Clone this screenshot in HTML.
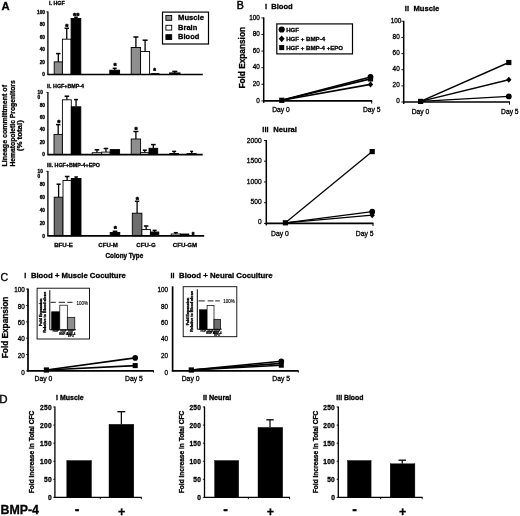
<!DOCTYPE html>
<html><head><meta charset="utf-8"><title>Figure</title>
<style>
html,body{margin:0;padding:0;background:#fff;}
svg{display:block;font-family:"Liberation Sans",sans-serif;font-weight:bold;fill:#000;}
svg line,svg rect{stroke:#000;}
</style></head><body>
<svg width="520" height="516" viewBox="0 0 520 516">
<defs><filter id="soft" x="0" y="0" width="520" height="516" filterUnits="userSpaceOnUse"><feGaussianBlur stdDeviation="0.4"/></filter></defs>
<rect x="0" y="0" width="520" height="516" fill="#fff" style="stroke:none"/>
<g filter="url(#soft)" stroke="#000" stroke-width="0.3">
<text x="1.4" y="10.2" font-size="11.3">A</text>
<text x="7.4" y="166.6" font-size="7.2" textLength="81.6" lengthAdjust="spacingAndGlyphs" transform="rotate(-90 7.4 166.6)">Lineage committment of</text>
<text x="15.1" y="166.6" font-size="7.2" textLength="86.3" lengthAdjust="spacingAndGlyphs" transform="rotate(-90 15.1 166.6)">Hematopoietic Progenitors</text>
<text x="22.4" y="151.2" font-size="7.2" textLength="31" lengthAdjust="spacingAndGlyphs" transform="rotate(-90 22.4 151.2)">(%  total)</text>
<text x="49" y="5.3" font-size="5.35">i.  HGF</text>
<text x="45" y="76.2" font-size="4.8" text-anchor="end">0</text>
<text x="45" y="63.68" font-size="4.8" text-anchor="end">20</text>
<text x="45" y="51.16" font-size="4.8" text-anchor="end">40</text>
<text x="45" y="38.64" font-size="4.8" text-anchor="end">60</text>
<text x="45" y="26.12" font-size="4.8" text-anchor="end">80</text>
<text x="45" y="13.6" font-size="4.8" text-anchor="end">100</text>
<line x1="58.3" y1="61.9" x2="58.3" y2="53.6" stroke-width="1.3"/>
<line x1="56.1" y1="53.6" x2="60.5" y2="53.6" stroke-width="1.5"/>
<rect x="54.2" y="61.9" width="8.2" height="12.6" fill="#8e8e8e" stroke-width="0.9"/>
<line x1="66.75" y1="39.2" x2="66.75" y2="28.3" stroke-width="1.3"/>
<line x1="64.55" y1="28.3" x2="68.95" y2="28.3" stroke-width="1.5"/>
<rect x="62.4" y="39.2" width="8.7" height="35.3" fill="#fff" stroke-width="0.9"/>
<line x1="75.95" y1="18.5" x2="75.95" y2="17.2" stroke-width="1.3"/>
<line x1="74.15" y1="17.2" x2="77.75" y2="17.2" stroke-width="1.5"/>
<rect x="71.1" y="18.5" width="9.7" height="56" fill="#000" stroke-width="0.9"/>
<line x1="114.7" y1="70.2" x2="114.7" y2="68.3" stroke-width="1.3"/>
<line x1="112.7" y1="68.3" x2="116.7" y2="68.3" stroke-width="1.5"/>
<rect x="109.8" y="70.2" width="9.8" height="4.3" fill="#000" stroke-width="0.9"/>
<line x1="135.9" y1="47.5" x2="135.9" y2="37" stroke-width="1.3"/>
<line x1="133.4" y1="37" x2="138.4" y2="37" stroke-width="1.5"/>
<rect x="131.2" y="47.5" width="9.4" height="27" fill="#8e8e8e" stroke-width="0.9"/>
<line x1="145.1" y1="51.5" x2="145.1" y2="40.2" stroke-width="1.3"/>
<line x1="142.6" y1="40.2" x2="147.6" y2="40.2" stroke-width="1.5"/>
<rect x="140.6" y="51.5" width="9" height="23" fill="#fff" stroke-width="0.9"/>
<rect x="151" y="73.6" width="8" height="0.9" fill="#000" stroke-width="0.9"/>
<line x1="174.8" y1="72.9" x2="174.8" y2="71.4" stroke-width="1.3"/>
<line x1="172.3" y1="71.4" x2="177.3" y2="71.4" stroke-width="1.5"/>
<rect x="169.6" y="72.9" width="10.4" height="1.6" fill="#000" stroke-width="0.9"/>
<line x1="47.9" y1="11.5" x2="47.9" y2="74.5" stroke-width="1.3"/>
<line x1="46.3" y1="11.9" x2="47.9" y2="11.9" stroke-width="0.8"/>
<line x1="47.3" y1="74.5" x2="202.8" y2="74.5" stroke-width="1.7"/>
<text x="66.9" y="29.19" font-size="8.05" text-anchor="middle" stroke="#000" stroke-width="0.55">*</text>
<text x="76.2" y="17.99" font-size="8.05" text-anchor="middle" stroke="#000" stroke-width="0.55">**</text>
<text x="115" y="68.19" font-size="8.05" text-anchor="middle" stroke="#000" stroke-width="0.55">*</text>
<text x="154.5" y="73.32" font-size="6.9" text-anchor="middle" stroke="#000" stroke-width="0.55">*</text>
<text x="47.1" y="87.6" font-size="5.35">ii.  HGF+BMP-4</text>
<text x="45" y="156.3" font-size="4.8" text-anchor="end">0</text>
<text x="45" y="143.86" font-size="4.8" text-anchor="end">20</text>
<text x="45" y="131.42" font-size="4.8" text-anchor="end">40</text>
<text x="45" y="118.98" font-size="4.8" text-anchor="end">60</text>
<text x="45" y="106.54" font-size="4.8" text-anchor="end">80</text>
<text x="37.5" y="94" font-size="4.8">10</text>
<text x="37.5" y="98.6" font-size="4.8">0</text>
<line x1="58.2" y1="134.4" x2="58.2" y2="124.6" stroke-width="1.3"/>
<line x1="56" y1="124.6" x2="60.4" y2="124.6" stroke-width="1.5"/>
<rect x="54" y="134.4" width="8.4" height="20.2" fill="#8e8e8e" stroke-width="0.9"/>
<line x1="66.85" y1="99.8" x2="66.85" y2="96.2" stroke-width="1.3"/>
<line x1="64.55" y1="96.2" x2="69.15" y2="96.2" stroke-width="1.5"/>
<rect x="62.4" y="99.8" width="8.9" height="54.8" fill="#fff" stroke-width="0.9"/>
<line x1="76.05" y1="106.8" x2="76.05" y2="99.6" stroke-width="1.3"/>
<line x1="74.05" y1="99.6" x2="78.05" y2="99.6" stroke-width="1.5"/>
<rect x="71.3" y="106.8" width="9.5" height="47.8" fill="#000" stroke-width="0.9"/>
<line x1="96.95" y1="152.7" x2="96.95" y2="149.8" stroke-width="1.3"/>
<line x1="94.65" y1="149.8" x2="99.25" y2="149.8" stroke-width="1.5"/>
<rect x="92.2" y="152.7" width="9.5" height="1.9" fill="#fff" stroke-width="0.9"/>
<line x1="105.95" y1="152.1" x2="105.95" y2="148.5" stroke-width="1.3"/>
<line x1="103.65" y1="148.5" x2="108.25" y2="148.5" stroke-width="1.5"/>
<rect x="101.7" y="152.1" width="8.5" height="2.5" fill="#fff" stroke-width="0.9"/>
<rect x="110.2" y="149.6" width="9.4" height="5" fill="#000" stroke-width="0.9"/>
<line x1="135.9" y1="139" x2="135.9" y2="131.5" stroke-width="1.3"/>
<line x1="133.4" y1="131.5" x2="138.4" y2="131.5" stroke-width="1.5"/>
<rect x="131.2" y="139" width="9.4" height="15.6" fill="#8e8e8e" stroke-width="0.9"/>
<line x1="144.8" y1="152.6" x2="144.8" y2="150.2" stroke-width="1.3"/>
<line x1="142.8" y1="150.2" x2="146.8" y2="150.2" stroke-width="1.5"/>
<rect x="140.6" y="152.6" width="8.4" height="2" fill="#fff" stroke-width="0.9"/>
<line x1="153.35" y1="148.3" x2="153.35" y2="144.6" stroke-width="1.3"/>
<line x1="151.05" y1="144.6" x2="155.65" y2="144.6" stroke-width="1.5"/>
<rect x="149" y="148.3" width="8.7" height="6.3" fill="#000" stroke-width="0.9"/>
<line x1="174.15" y1="153.5" x2="174.15" y2="151.4" stroke-width="1.3"/>
<line x1="172.15" y1="151.4" x2="176.15" y2="151.4" stroke-width="1.5"/>
<rect x="169.8" y="153.5" width="8.7" height="1.1" fill="#000" stroke-width="0.9"/>
<line x1="191.65" y1="153.6" x2="191.65" y2="151.4" stroke-width="1.3"/>
<line x1="190.15" y1="151.4" x2="193.15" y2="151.4" stroke-width="1.5"/>
<rect x="187" y="153.6" width="9.3" height="1" fill="#000" stroke-width="0.9"/>
<line x1="47.9" y1="92" x2="47.9" y2="154.6" stroke-width="1.3"/>
<line x1="46.3" y1="92.4" x2="47.9" y2="92.4" stroke-width="0.8"/>
<line x1="47.3" y1="154.6" x2="202.7" y2="154.6" stroke-width="1.7"/>
<text x="58.8" y="124.99" font-size="8.05" text-anchor="middle" stroke="#000" stroke-width="0.55">*</text>
<text x="136.1" y="132.29" font-size="8.05" text-anchor="middle" stroke="#000" stroke-width="0.55">*</text>
<text x="47.1" y="167" font-size="5.35">iii.  HGF+BMP-4+EPO</text>
<text x="45" y="237.5" font-size="4.8" text-anchor="end">0</text>
<text x="45" y="224.6" font-size="4.8" text-anchor="end">20</text>
<text x="45" y="211.7" font-size="4.8" text-anchor="end">40</text>
<text x="45" y="198.8" font-size="4.8" text-anchor="end">60</text>
<text x="45" y="185.9" font-size="4.8" text-anchor="end">80</text>
<text x="37.5" y="172.9" font-size="4.8">10</text>
<text x="37.5" y="177.5" font-size="4.8">0</text>
<line x1="58.6" y1="197.2" x2="58.6" y2="184.2" stroke-width="1.3"/>
<line x1="56.55" y1="184.2" x2="60.65" y2="184.2" stroke-width="1.5"/>
<rect x="54.2" y="197.2" width="8.8" height="38.6" fill="#6e6e6e" stroke-width="0.9"/>
<line x1="67.15" y1="180.5" x2="67.15" y2="176.5" stroke-width="1.3"/>
<line x1="64.85" y1="176.5" x2="69.45" y2="176.5" stroke-width="1.5"/>
<rect x="63" y="180.5" width="8.3" height="55.3" fill="#fff" stroke-width="0.9"/>
<line x1="76.15" y1="178.5" x2="76.15" y2="177" stroke-width="1.3"/>
<line x1="74.4" y1="177" x2="77.9" y2="177" stroke-width="1.5"/>
<rect x="71.3" y="178.5" width="9.7" height="57.3" fill="#000" stroke-width="0.9"/>
<line x1="115" y1="232.5" x2="115" y2="231.3" stroke-width="1.3"/>
<line x1="112.7" y1="231.3" x2="117.3" y2="231.3" stroke-width="1.5"/>
<rect x="110.2" y="232.5" width="9.6" height="3.3" fill="#000" stroke-width="0.9"/>
<line x1="137.1" y1="213.2" x2="137.1" y2="201.3" stroke-width="1.3"/>
<line x1="134.9" y1="201.3" x2="139.3" y2="201.3" stroke-width="1.5"/>
<rect x="132.3" y="213.2" width="9.6" height="22.6" fill="#6e6e6e" stroke-width="0.9"/>
<line x1="146.15" y1="229.6" x2="146.15" y2="226" stroke-width="1.3"/>
<line x1="143.9" y1="226" x2="148.4" y2="226" stroke-width="1.5"/>
<rect x="141.9" y="229.6" width="8.5" height="6.2" fill="#fff" stroke-width="0.9"/>
<line x1="154.6" y1="232" x2="154.6" y2="230.4" stroke-width="1.3"/>
<line x1="152.6" y1="230.4" x2="156.6" y2="230.4" stroke-width="1.5"/>
<rect x="150.4" y="232" width="8.4" height="3.8" fill="#000" stroke-width="0.9"/>
<line x1="175.8" y1="234" x2="175.8" y2="232.7" stroke-width="1.3"/>
<line x1="173.8" y1="232.7" x2="177.8" y2="232.7" stroke-width="1.5"/>
<rect x="171.2" y="234" width="9.2" height="1.8" fill="#fff" stroke-width="0.9"/>
<rect x="180.4" y="234" width="8.4" height="1.8" fill="#000" stroke-width="0.9"/>
<line x1="47.9" y1="170.9" x2="47.9" y2="235.8" stroke-width="1.3"/>
<line x1="46.3" y1="171.3" x2="47.9" y2="171.3" stroke-width="0.8"/>
<line x1="47.3" y1="235.8" x2="204.2" y2="235.8" stroke-width="1.7"/>
<text x="115.2" y="230.69" font-size="8.05" text-anchor="middle" stroke="#000" stroke-width="0.55">*</text>
<text x="137.2" y="202.29" font-size="8.05" text-anchor="middle" stroke="#000" stroke-width="0.55">*</text>
<text x="193.2" y="236.72" font-size="6.9" text-anchor="middle" stroke="#000" stroke-width="0.55">*</text>
<text x="63.5" y="246.7" font-size="6.1" text-anchor="middle">BFU-E</text>
<text x="108.1" y="246.7" font-size="6.1" text-anchor="middle">CFU-M</text>
<text x="146" y="246.7" font-size="6.1" text-anchor="middle">CFU-G</text>
<text x="185" y="246.7" font-size="6.1" text-anchor="middle">CFU-GM</text>
<text x="105.5" y="258.3" font-size="6.3" textLength="37.7" lengthAdjust="spacingAndGlyphs">Colony Type</text>
<rect x="162.5" y="12.1" width="46" height="31.9" fill="#fff" stroke-width="1.2"/>
<rect x="165.9" y="15.5" width="5.8" height="4.8" fill="#8e8e8e" stroke-width="0.9"/>
<rect x="165.9" y="25.3" width="5.8" height="4.8" fill="#fff" stroke-width="0.9"/>
<rect x="165.9" y="34.7" width="5.8" height="4.8" fill="#000" stroke-width="0.9"/>
<text x="178.1" y="20.3" font-size="7.5" textLength="25.9" lengthAdjust="spacingAndGlyphs">Muscle</text>
<text x="178.1" y="29.7" font-size="7.5">Brain</text>
<text x="178.1" y="38.9" font-size="7.5">Blood</text>
<text x="236.8" y="8.8" font-size="10.6" font-weight="normal" stroke="#000" stroke-width="0.5">B</text>
<text x="245.4" y="88.5" font-size="8.2" textLength="61.5" lengthAdjust="spacingAndGlyphs" transform="rotate(-90 245.4 88.5)">Fold Expansion</text>
<text x="264.9" y="9.2" font-size="7.5">i</text>
<text x="271.2" y="9.2" font-size="7.6">Blood</text>
<text x="259.9" y="102.6" font-size="6.4" font-weight="normal" text-anchor="end" stroke="#000" stroke-width="0.3">0</text>
<line x1="261.4" y1="100.9" x2="263.7" y2="100.9" stroke-width="0.9"/>
<text x="259.9" y="86" font-size="6.4" font-weight="normal" text-anchor="end" stroke="#000" stroke-width="0.3">20</text>
<line x1="261.4" y1="84.3" x2="263.7" y2="84.3" stroke-width="0.9"/>
<text x="259.9" y="69.4" font-size="6.4" font-weight="normal" text-anchor="end" stroke="#000" stroke-width="0.3">40</text>
<line x1="261.4" y1="67.7" x2="263.7" y2="67.7" stroke-width="0.9"/>
<text x="259.9" y="52.8" font-size="6.4" font-weight="normal" text-anchor="end" stroke="#000" stroke-width="0.3">60</text>
<line x1="261.4" y1="51.1" x2="263.7" y2="51.1" stroke-width="0.9"/>
<text x="259.9" y="36.2" font-size="6.4" font-weight="normal" text-anchor="end" stroke="#000" stroke-width="0.3">80</text>
<line x1="261.4" y1="34.5" x2="263.7" y2="34.5" stroke-width="0.9"/>
<text x="259.9" y="19.6" font-size="6.4" font-weight="normal" text-anchor="end" stroke="#000" stroke-width="0.3">100</text>
<line x1="261.4" y1="17.9" x2="263.7" y2="17.9" stroke-width="0.9"/>
<line x1="263.7" y1="17.4" x2="263.7" y2="102.9" stroke-width="1.5"/>
<line x1="263.2" y1="100.9" x2="372.2" y2="100.9" stroke-width="1.6"/>
<line x1="371.7" y1="100.9" x2="371.7" y2="103.5" stroke-width="1"/>
<line x1="281.8" y1="100.3" x2="370.5" y2="84.4" stroke-width="1.6"/>
<line x1="281.8" y1="100.3" x2="370.5" y2="78.9" stroke-width="1.6"/>
<line x1="281.8" y1="100.3" x2="370.5" y2="76.9" stroke-width="1.6"/>
<polygon points="370.5,81.36 373.17,84.4 370.5,87.45 367.83,84.4" stroke="none"/>
<rect x="367.89" y="76.29" width="5.22" height="5.22" style="stroke:none"/>
<circle cx="370.5" cy="76.9" r="2.9" stroke="none"/>
<rect x="279.19" y="97.69" width="5.22" height="5.22" style="stroke:none"/>
<text x="272.2" y="112.1" font-size="6.7" font-weight="normal" stroke="#000" stroke-width="0.3">Day 0</text>
<text x="363" y="112.1" font-size="6.7" font-weight="normal" stroke="#000" stroke-width="0.3">Day 5</text>
<rect x="276.8" y="23.9" width="75.7" height="30" fill="#fff" stroke-width="1.2"/>
<circle cx="281.7" cy="29.5" r="3.1" stroke="none"/>
<text x="286.2" y="31.8" font-size="6.1">HGF</text>
<polygon points="281.7,35.44 284.64,38.8 281.7,42.16 278.76,38.8" stroke="none"/>
<text x="286.2" y="41.1" font-size="6.1" textLength="38.9" lengthAdjust="spacingAndGlyphs">HGF + BMP-4</text>
<rect x="279.18" y="45.08" width="5.04" height="5.04" style="stroke:none"/>
<text x="286.2" y="49.5" font-size="6.1" textLength="56.9" lengthAdjust="spacingAndGlyphs">HGF + BMP-4 +EPO</text>
<text x="404.8" y="11" font-size="7.5">ii</text>
<text x="413.5" y="11" font-size="7.6">Muscle</text>
<text x="399.7" y="103.3" font-size="6.4" font-weight="normal" text-anchor="end" stroke="#000" stroke-width="0.3">0</text>
<line x1="401.4" y1="102" x2="403.7" y2="102" stroke-width="0.9"/>
<text x="399.7" y="87.16" font-size="6.4" font-weight="normal" text-anchor="end" stroke="#000" stroke-width="0.3">20</text>
<line x1="401.4" y1="85.86" x2="403.7" y2="85.86" stroke-width="0.9"/>
<text x="399.7" y="71.02" font-size="6.4" font-weight="normal" text-anchor="end" stroke="#000" stroke-width="0.3">40</text>
<line x1="401.4" y1="69.72" x2="403.7" y2="69.72" stroke-width="0.9"/>
<text x="399.7" y="54.88" font-size="6.4" font-weight="normal" text-anchor="end" stroke="#000" stroke-width="0.3">60</text>
<line x1="401.4" y1="53.58" x2="403.7" y2="53.58" stroke-width="0.9"/>
<text x="399.7" y="38.74" font-size="6.4" font-weight="normal" text-anchor="end" stroke="#000" stroke-width="0.3">80</text>
<line x1="401.4" y1="37.44" x2="403.7" y2="37.44" stroke-width="0.9"/>
<text x="401.3" y="22.6" font-size="6.4" font-weight="normal" text-anchor="end" stroke="#000" stroke-width="0.3">100</text>
<line x1="401.4" y1="21.3" x2="403.7" y2="21.3" stroke-width="0.9"/>
<line x1="403.7" y1="20.8" x2="403.7" y2="104" stroke-width="1.5"/>
<line x1="403.2" y1="102" x2="510" y2="102" stroke-width="1.6"/>
<line x1="509.5" y1="102" x2="509.5" y2="104.6" stroke-width="1"/>
<line x1="420.6" y1="101.4" x2="508.8" y2="96.4" stroke-width="1.45"/>
<line x1="420.6" y1="101.4" x2="508.8" y2="79.7" stroke-width="1.45"/>
<line x1="420.6" y1="101.4" x2="508.8" y2="62.5" stroke-width="1.45"/>
<circle cx="508.8" cy="96.4" r="2.9" stroke="none"/>
<polygon points="508.8,76.66 511.47,79.7 508.8,82.75 506.13,79.7" stroke="none"/>
<rect x="506.19" y="59.89" width="5.22" height="5.22" style="stroke:none"/>
<rect x="417.99" y="98.79" width="5.22" height="5.22" style="stroke:none"/>
<text x="411.7" y="113.6" font-size="6.7" font-weight="normal" stroke="#000" stroke-width="0.3">Day 0</text>
<text x="501.1" y="113.6" font-size="6.7" font-weight="normal" stroke="#000" stroke-width="0.3">Day 5</text>
<text x="262.3" y="132.1" font-size="7.5">iii</text>
<text x="273.3" y="132.1" font-size="7.6">Neural</text>
<text x="261.7" y="224.4" font-size="6.7" font-weight="normal" text-anchor="end" stroke="#000" stroke-width="0.3">0</text>
<line x1="264" y1="223.4" x2="266.3" y2="223.4" stroke-width="0.9"/>
<text x="261.7" y="204.05" font-size="6.7" font-weight="normal" text-anchor="end" stroke="#000" stroke-width="0.3">500</text>
<line x1="264" y1="202.68" x2="266.3" y2="202.68" stroke-width="0.9"/>
<text x="261.7" y="183.7" font-size="6.7" font-weight="normal" text-anchor="end" stroke="#000" stroke-width="0.3">1000</text>
<line x1="264" y1="181.95" x2="266.3" y2="181.95" stroke-width="0.9"/>
<text x="261.7" y="163.35" font-size="6.7" font-weight="normal" text-anchor="end" stroke="#000" stroke-width="0.3">1500</text>
<line x1="264" y1="161.22" x2="266.3" y2="161.22" stroke-width="0.9"/>
<text x="261.7" y="143" font-size="6.7" font-weight="normal" text-anchor="end" stroke="#000" stroke-width="0.3">2000</text>
<line x1="264" y1="140.5" x2="266.3" y2="140.5" stroke-width="0.9"/>
<line x1="266.3" y1="140" x2="266.3" y2="225.4" stroke-width="1.5"/>
<line x1="265.8" y1="223.4" x2="373.5" y2="223.4" stroke-width="1.6"/>
<line x1="373" y1="223.4" x2="373" y2="226" stroke-width="1"/>
<line x1="285.4" y1="222.8" x2="372.2" y2="215.2" stroke-width="1.25"/>
<line x1="285.4" y1="222.8" x2="372.2" y2="211.7" stroke-width="1.25"/>
<line x1="285.4" y1="222.8" x2="372.2" y2="151.6" stroke-width="1.25"/>
<polygon points="372.2,212.16 374.87,215.2 372.2,218.24 369.53,215.2" stroke="none"/>
<circle cx="372.2" cy="211.7" r="2.9" stroke="none"/>
<rect x="369.59" y="148.99" width="5.22" height="5.22" style="stroke:none"/>
<rect x="282.79" y="220.19" width="5.22" height="5.22" style="stroke:none"/>
<text x="271" y="235.6" font-size="6.8" font-weight="normal" stroke="#000" stroke-width="0.3">Day 0</text>
<text x="355.8" y="235.6" font-size="6.8" font-weight="normal" stroke="#000" stroke-width="0.3">Day 5</text>
<text x="0.4" y="280.8" font-size="10.6" font-weight="normal" stroke="#000" stroke-width="0.3">C</text>
<text x="8.3" y="358.2" font-size="8.2" textLength="61.5" lengthAdjust="spacingAndGlyphs" transform="rotate(-90 8.3 358.2)">Fold Expansion</text>
<text x="24.2" y="278.1" font-size="7.2">i</text>
<text x="30.9" y="278.1" font-size="7.2" textLength="95" lengthAdjust="spacingAndGlyphs">Blood + Muscle Coculture</text>
<text x="24.8" y="374.6" font-size="6.3" font-weight="normal" text-anchor="end" stroke="#000" stroke-width="0.3">0</text>
<line x1="26.2" y1="370.9" x2="28" y2="370.9" stroke-width="0.9"/>
<text x="24.8" y="357.74" font-size="6.3" font-weight="normal" text-anchor="end" stroke="#000" stroke-width="0.3">20</text>
<line x1="26.2" y1="354.54" x2="28" y2="354.54" stroke-width="0.9"/>
<text x="24.8" y="341.38" font-size="6.3" font-weight="normal" text-anchor="end" stroke="#000" stroke-width="0.3">40</text>
<line x1="26.2" y1="338.18" x2="28" y2="338.18" stroke-width="0.9"/>
<text x="24.8" y="325.02" font-size="6.3" font-weight="normal" text-anchor="end" stroke="#000" stroke-width="0.3">60</text>
<line x1="26.2" y1="321.82" x2="28" y2="321.82" stroke-width="0.9"/>
<text x="24.8" y="308.66" font-size="6.3" font-weight="normal" text-anchor="end" stroke="#000" stroke-width="0.3">80</text>
<line x1="26.2" y1="305.46" x2="28" y2="305.46" stroke-width="0.9"/>
<text x="24.8" y="292.3" font-size="6.3" font-weight="normal" text-anchor="end" stroke="#000" stroke-width="0.3">100</text>
<line x1="26.2" y1="289.1" x2="28" y2="289.1" stroke-width="0.9"/>
<line x1="28" y1="288.6" x2="28" y2="371.5" stroke-width="1.7"/>
<line x1="27.3" y1="370.9" x2="153.8" y2="370.9" stroke-width="1.7"/>
<line x1="153.5" y1="370.9" x2="153.5" y2="372.5" stroke-width="1"/>
<line x1="46.4" y1="370" x2="135.2" y2="365.6" stroke-width="1.6"/>
<line x1="46.4" y1="370" x2="135.2" y2="357.9" stroke-width="1.6"/>
<rect x="132.68" y="363.08" width="5.04" height="5.04" style="stroke:none"/>
<circle cx="135.2" cy="357.9" r="2.8" stroke="none"/>
<rect x="43.79" y="367.39" width="5.22" height="5.22" style="stroke:none"/>
<text x="34.6" y="380.5" font-size="6.8" font-weight="normal" stroke="#000" stroke-width="0.3">Day 0</text>
<text x="125" y="380.7" font-size="6.8" font-weight="normal" stroke="#000" stroke-width="0.3">Day 5</text>
<rect x="37.1" y="288.2" width="52.4" height="50.8" fill="#fff" stroke-width="0.9" stroke="#222"/>
<g stroke="#000">
<line x1="49.8" y1="290.2" x2="49.8" y2="329.8" stroke-width="1"/>
<line x1="49.8" y1="329.8" x2="76" y2="329.8" stroke-width="0.9"/>
<line x1="50.6" y1="302.3" x2="55.8" y2="302.3" stroke-width="0.9"/>
<line x1="58.7" y1="302.3" x2="65" y2="302.3" stroke-width="0.9"/>
<line x1="67.3" y1="302.3" x2="72.5" y2="302.3" stroke-width="0.9"/>
</g>
<text x="76.5" y="304.5" font-size="4.5" font-weight="normal" stroke="#000" stroke-width="0.12">100%</text>
<rect x="51.7" y="311.8" width="8.1" height="18" fill="#000" stroke-width="0.7"/>
<rect x="59.8" y="305.2" width="7.5" height="24.6" fill="#fff" stroke-width="0.7"/>
<rect x="67.3" y="317.3" width="7.5" height="12.5" fill="#8e8e8e" stroke-width="0.7"/>
<text x="42.2" y="312.2" font-size="3.7" text-anchor="middle" transform="rotate(-90 42.2 312.2)" stroke="#000" stroke-width="0.3">Fold Expansion</text>
<text x="46.3" y="312.2" font-size="3.7" text-anchor="middle" transform="rotate(-90 46.3 312.2)" stroke="#000" stroke-width="0.3">Relative to Blood alone</text>
<text x="55.75" y="332.4" font-size="2.8" text-anchor="middle" stroke="#000" stroke-width="0.18">HGF</text>
<text x="63.55" y="332.4" font-size="2.8" text-anchor="middle" stroke="#000" stroke-width="0.18">HGF</text>
<text x="63.55" y="334.7" font-size="2.8" text-anchor="middle" stroke="#000" stroke-width="0.18">BMP-4</text>
<text x="71.05" y="332.4" font-size="2.8" text-anchor="middle" stroke="#000" stroke-width="0.18">HGF</text>
<text x="71.05" y="334.7" font-size="2.8" text-anchor="middle" stroke="#000" stroke-width="0.18">BMP-4</text>
<text x="71.05" y="337" font-size="2.8" text-anchor="middle" stroke="#000" stroke-width="0.18">EPO</text>
<text x="170.5" y="277.6" font-size="7.2">ii</text>
<text x="179.1" y="277.6" font-size="7.2" textLength="93.5" lengthAdjust="spacingAndGlyphs">Blood + Neural Coculture</text>
<text x="168" y="374.6" font-size="6.3" font-weight="normal" text-anchor="end" stroke="#000" stroke-width="0.3">0</text>
<text x="168" y="357.74" font-size="6.3" font-weight="normal" text-anchor="end" stroke="#000" stroke-width="0.3">20</text>
<text x="168" y="341.38" font-size="6.3" font-weight="normal" text-anchor="end" stroke="#000" stroke-width="0.3">40</text>
<text x="168" y="325.02" font-size="6.3" font-weight="normal" text-anchor="end" stroke="#000" stroke-width="0.3">60</text>
<text x="168" y="308.66" font-size="6.3" font-weight="normal" text-anchor="end" stroke="#000" stroke-width="0.3">80</text>
<text x="168" y="292.3" font-size="6.3" font-weight="normal" text-anchor="end" stroke="#000" stroke-width="0.3">100</text>
<line x1="172.6" y1="286.3" x2="172.6" y2="371.5" stroke-width="1.7"/>
<line x1="171.9" y1="370.9" x2="298.6" y2="370.9" stroke-width="1.7"/>
<line x1="298.3" y1="370.9" x2="298.3" y2="372.5" stroke-width="1"/>
<line x1="191.3" y1="370" x2="281.3" y2="365.2" stroke-width="1.6"/>
<line x1="191.3" y1="370" x2="281.3" y2="363.4" stroke-width="1.6"/>
<line x1="191.3" y1="370" x2="281.3" y2="361.3" stroke-width="1.6"/>
<rect x="278.78" y="362.68" width="5.04" height="5.04" style="stroke:none"/>
<polygon points="281.3,360.46 283.88,363.4 281.3,366.34 278.72,363.4" stroke="none"/>
<circle cx="281.3" cy="361.3" r="2.8" stroke="none"/>
<rect x="188.69" y="367.39" width="5.22" height="5.22" style="stroke:none"/>
<text x="181.7" y="380.5" font-size="6.8" font-weight="normal" stroke="#000" stroke-width="0.3">Day 0</text>
<text x="272.3" y="380.7" font-size="6.8" font-weight="normal" stroke="#000" stroke-width="0.3">Day 5</text>
<rect x="183.2" y="286.7" width="53.6" height="50" fill="#fff" stroke-width="0.9" stroke="#222"/>
<g stroke="#000">
<line x1="197.3" y1="289.3" x2="197.3" y2="329.2" stroke-width="1"/>
<line x1="197.3" y1="329.2" x2="221.8" y2="329.2" stroke-width="0.9"/>
<line x1="198.5" y1="300.9" x2="204.8" y2="300.9" stroke-width="0.9"/>
<line x1="207.7" y1="300.9" x2="213.5" y2="300.9" stroke-width="0.9"/>
<line x1="215.2" y1="300.9" x2="219.8" y2="300.9" stroke-width="0.9"/>
</g>
<text x="223.3" y="303.1" font-size="4.5" font-weight="normal" stroke="#000" stroke-width="0.12">100%</text>
<rect x="199.6" y="309.8" width="7.5" height="19.4" fill="#000" stroke-width="0.7"/>
<rect x="207.1" y="305.5" width="6.9" height="23.7" fill="#fff" stroke-width="0.7"/>
<rect x="214" y="319.3" width="6.6" height="9.9" fill="#6e6e6e" stroke-width="0.7"/>
<text x="189.5" y="311.45" font-size="3.7" text-anchor="middle" transform="rotate(-90 189.5 311.45)" stroke="#000" stroke-width="0.3">Fold Expansion</text>
<text x="193.3" y="311.45" font-size="3.7" text-anchor="middle" transform="rotate(-90 193.3 311.45)" stroke="#000" stroke-width="0.3">Relative to Blood alone</text>
<text x="203.35" y="331.8" font-size="2.8" text-anchor="middle" stroke="#000" stroke-width="0.18">HGF</text>
<text x="210.55" y="331.8" font-size="2.8" text-anchor="middle" stroke="#000" stroke-width="0.18">HGF</text>
<text x="210.55" y="334.1" font-size="2.8" text-anchor="middle" stroke="#000" stroke-width="0.18">BMP-4</text>
<text x="217.3" y="331.8" font-size="2.8" text-anchor="middle" stroke="#000" stroke-width="0.18">HGF</text>
<text x="217.3" y="334.1" font-size="2.8" text-anchor="middle" stroke="#000" stroke-width="0.18">BMP-4</text>
<text x="217.3" y="336.4" font-size="2.8" text-anchor="middle" stroke="#000" stroke-width="0.18">EPO</text>
<text x="-0.7" y="403.2" font-size="11.5" font-weight="normal" stroke="#000" stroke-width="0.35">D</text>
<text x="0.5" y="513.8" font-size="12.4" textLength="38.5" lengthAdjust="spacingAndGlyphs">BMP-4</text>
<text x="56.1" y="399.7" font-size="6.4" textLength="27.5" lengthAdjust="spacingAndGlyphs">i Muscle</text>
<text x="51.9" y="500" font-size="6.6" text-anchor="end" letter-spacing="0.3">0</text>
<line x1="53.3" y1="497.4" x2="54.9" y2="497.4" stroke-width="0.9"/>
<text x="51.9" y="481.92" font-size="6.6" text-anchor="end" letter-spacing="0.3">50</text>
<line x1="53.3" y1="479.32" x2="54.9" y2="479.32" stroke-width="0.9"/>
<text x="51.9" y="463.84" font-size="6.6" text-anchor="end" letter-spacing="0.3">100</text>
<line x1="53.3" y1="461.24" x2="54.9" y2="461.24" stroke-width="0.9"/>
<text x="51.9" y="445.76" font-size="6.6" text-anchor="end" letter-spacing="0.3">150</text>
<line x1="53.3" y1="443.16" x2="54.9" y2="443.16" stroke-width="0.9"/>
<text x="51.9" y="427.68" font-size="6.6" text-anchor="end" letter-spacing="0.3">200</text>
<line x1="53.3" y1="425.08" x2="54.9" y2="425.08" stroke-width="0.9"/>
<text x="51.9" y="409.6" font-size="6.6" text-anchor="end" letter-spacing="0.3">250</text>
<line x1="53.3" y1="407" x2="54.9" y2="407" stroke-width="0.9"/>
<line x1="54.9" y1="406.5" x2="54.9" y2="497.9" stroke-width="1.3"/>
<line x1="54.4" y1="497.4" x2="141.7" y2="497.4" stroke-width="1.3"/>
<line x1="100.25" y1="497.4" x2="100.25" y2="499.2" stroke-width="0.9"/>
<line x1="141.3" y1="497.4" x2="141.3" y2="499.2" stroke-width="0.9"/>
<text x="34.5" y="493.2" font-size="6.5" textLength="82.4" lengthAdjust="spacingAndGlyphs" transform="rotate(-90 34.5 493.2)">Fold Increase in Total CFC</text>
<rect x="66.8" y="460.5" width="24.7" height="36.9" fill="#000" stroke-width="0.4"/>
<line x1="121.35" y1="424.3" x2="121.35" y2="411.7" stroke-width="1.2"/>
<line x1="117.4" y1="411.7" x2="125.3" y2="411.7" stroke-width="1.3"/>
<rect x="109" y="424.3" width="24.8" height="73.1" fill="#000" stroke-width="0.4"/>
<text x="77.2" y="514.1" font-size="14" text-anchor="middle">-</text>
<text x="121.6" y="515.6" font-size="12.5" text-anchor="middle">+</text>
<text x="203" y="399.7" font-size="6.4" textLength="28.2" lengthAdjust="spacingAndGlyphs">ii Neural</text>
<text x="201.3" y="500" font-size="6.6" text-anchor="end" letter-spacing="0.3">0</text>
<line x1="202.9" y1="497.4" x2="204.5" y2="497.4" stroke-width="0.9"/>
<text x="201.3" y="481.92" font-size="6.6" text-anchor="end" letter-spacing="0.3">50</text>
<line x1="202.9" y1="479.32" x2="204.5" y2="479.32" stroke-width="0.9"/>
<text x="201.3" y="463.84" font-size="6.6" text-anchor="end" letter-spacing="0.3">100</text>
<line x1="202.9" y1="461.24" x2="204.5" y2="461.24" stroke-width="0.9"/>
<text x="201.3" y="445.76" font-size="6.6" text-anchor="end" letter-spacing="0.3">150</text>
<line x1="202.9" y1="443.16" x2="204.5" y2="443.16" stroke-width="0.9"/>
<text x="201.3" y="427.68" font-size="6.6" text-anchor="end" letter-spacing="0.3">200</text>
<line x1="202.9" y1="425.08" x2="204.5" y2="425.08" stroke-width="0.9"/>
<text x="201.3" y="409.6" font-size="6.6" text-anchor="end" letter-spacing="0.3">250</text>
<line x1="202.9" y1="407" x2="204.5" y2="407" stroke-width="0.9"/>
<line x1="204.5" y1="406.5" x2="204.5" y2="497.9" stroke-width="1.3"/>
<line x1="204" y1="497.4" x2="290" y2="497.4" stroke-width="1.3"/>
<line x1="248.35" y1="497.4" x2="248.35" y2="499.2" stroke-width="0.9"/>
<line x1="289.6" y1="497.4" x2="289.6" y2="499.2" stroke-width="0.9"/>
<text x="184.3" y="493.2" font-size="6.5" textLength="82.4" lengthAdjust="spacingAndGlyphs" transform="rotate(-90 184.3 493.2)">Fold Increase in Total CFC</text>
<rect x="214.6" y="460.5" width="24.1" height="36.9" fill="#000" stroke-width="0.4"/>
<line x1="270" y1="427.4" x2="270" y2="419.8" stroke-width="1.2"/>
<line x1="266.3" y1="419.8" x2="273.7" y2="419.8" stroke-width="1.3"/>
<rect x="258" y="427.4" width="24.7" height="70" fill="#000" stroke-width="0.4"/>
<text x="225.5" y="514.1" font-size="14" text-anchor="middle">-</text>
<text x="270.3" y="515.6" font-size="12.5" text-anchor="middle">+</text>
<text x="336.3" y="399.7" font-size="6.4" textLength="27.2" lengthAdjust="spacingAndGlyphs">iii Blood</text>
<text x="335.1" y="500" font-size="6.6" text-anchor="end" letter-spacing="0.3">0</text>
<line x1="336.7" y1="497.4" x2="338.3" y2="497.4" stroke-width="0.9"/>
<text x="335.1" y="481.92" font-size="6.6" text-anchor="end" letter-spacing="0.3">50</text>
<line x1="336.7" y1="479.32" x2="338.3" y2="479.32" stroke-width="0.9"/>
<text x="335.1" y="463.84" font-size="6.6" text-anchor="end" letter-spacing="0.3">100</text>
<line x1="336.7" y1="461.24" x2="338.3" y2="461.24" stroke-width="0.9"/>
<text x="335.1" y="445.76" font-size="6.6" text-anchor="end" letter-spacing="0.3">150</text>
<line x1="336.7" y1="443.16" x2="338.3" y2="443.16" stroke-width="0.9"/>
<text x="335.1" y="427.68" font-size="6.6" text-anchor="end" letter-spacing="0.3">200</text>
<line x1="336.7" y1="425.08" x2="338.3" y2="425.08" stroke-width="0.9"/>
<text x="335.1" y="409.6" font-size="6.6" text-anchor="end" letter-spacing="0.3">250</text>
<line x1="336.7" y1="407" x2="338.3" y2="407" stroke-width="0.9"/>
<line x1="338.3" y1="406.5" x2="338.3" y2="497.9" stroke-width="1.3"/>
<line x1="337.8" y1="497.4" x2="422.6" y2="497.4" stroke-width="1.3"/>
<line x1="380.65" y1="497.4" x2="380.65" y2="499.2" stroke-width="0.9"/>
<line x1="422.2" y1="497.4" x2="422.2" y2="499.2" stroke-width="0.9"/>
<text x="318" y="493.2" font-size="6.5" textLength="82.4" lengthAdjust="spacingAndGlyphs" transform="rotate(-90 318 493.2)">Fold Increase in Total CFC</text>
<rect x="347.5" y="460.5" width="23.6" height="36.9" fill="#000" stroke-width="0.4"/>
<line x1="402.25" y1="463.8" x2="402.25" y2="460.2" stroke-width="1.2"/>
<line x1="398.5" y1="460.2" x2="406" y2="460.2" stroke-width="1.3"/>
<rect x="390.2" y="463.8" width="24.7" height="33.6" fill="#000" stroke-width="0.4"/>
<text x="354.5" y="514.1" font-size="14" text-anchor="middle">-</text>
<text x="402.6" y="515.6" font-size="12.5" text-anchor="middle">+</text>
</g>
</svg>
</body></html>
